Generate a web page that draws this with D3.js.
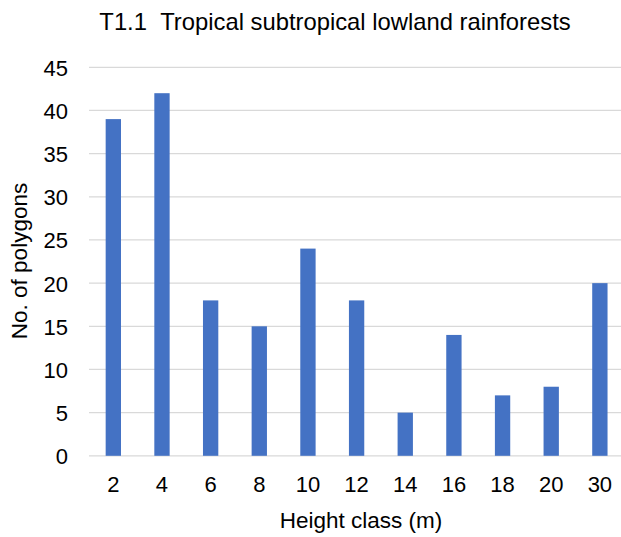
<!DOCTYPE html>
<html><head><meta charset="utf-8">
<script src="https://cdn.jsdelivr.net/npm/d3@7"></script>
<style>body{margin:0;background:#fff}svg{display:block}</style>
</head><body>
<svg id="c" width="621" height="537"></svg>
<script>
const categories = ["2","4","6","8","10","12","14","16","18","20","30"];
const values = [39,42,18,15,24,18,5,14,7,8,20];
const yTicks = [0,5,10,15,20,25,30,35,40,45];
const title = "T1.1\u00a0\u00a0Tropical subtropical lowland rainforests";
const xTitle = "Height class (m)";
const yTitle = "No. of polygons";

const svg = d3.select("#c");
const font = "'Liberation Sans', Arial, sans-serif";
const gridLeft = 89, gridRight = 621;
const x = d3.scaleBand().domain(categories).range([89, 624.2]).paddingInner(0.685).paddingOuter(0.3425);
const y = d3.scaleLinear().domain([0,45]).range([455.8, 67.3]);

// gridlines
svg.append("g").selectAll("line").data(yTicks).join("line")
  .attr("x1", gridLeft).attr("x2", gridRight)
  .attr("y1", d=>y(d)).attr("y2", d=>y(d))
  .attr("stroke", "#d9d9d9").attr("stroke-width", 1.3);

// bars
svg.append("g").selectAll("rect").data(values).join("rect")
  .attr("x", (d,i)=>x(categories[i]))
  .attr("width", x.bandwidth())
  .attr("y", d=>y(d)).attr("height", d=>y(0)-y(d))
  .attr("fill", "#4472c4");

// y axis labels
const yAxis = d3.axisLeft(y).tickValues(yTicks).tickSize(0).tickPadding(0);
const gy = svg.append("g").attr("transform", "translate(68,0)").call(yAxis);
gy.select(".domain").remove();
gy.selectAll("text").attr("font-family", font).attr("font-size", 22).attr("fill", "#000").attr("dy", "0.36em");

// x axis labels
const xAxis = d3.axisBottom(x).tickSize(0).tickPadding(0);
const gx = svg.append("g").attr("transform", "translate(0,476.5)").call(xAxis);
gx.select(".domain").remove();
gx.selectAll("text").attr("font-family", font).attr("font-size", 22).attr("fill", "#000").attr("dy", "0.71em");

// title
svg.append("text").attr("x", 335).attr("y", 30).attr("text-anchor", "middle")
  .attr("font-family", font).attr("font-size", 23.8).attr("fill", "#000").text(title);
// x title
svg.append("text").attr("x", 361).attr("y", 528).attr("text-anchor", "middle")
  .attr("font-family", font).attr("font-size", 22.5).attr("fill", "#000").text(xTitle);
// y title
svg.append("text").attr("transform", "translate(27,261) rotate(-90)").attr("text-anchor", "middle")
  .attr("font-family", font).attr("font-size", 22.5).attr("fill", "#000").text(yTitle);
</script>
</body></html>
